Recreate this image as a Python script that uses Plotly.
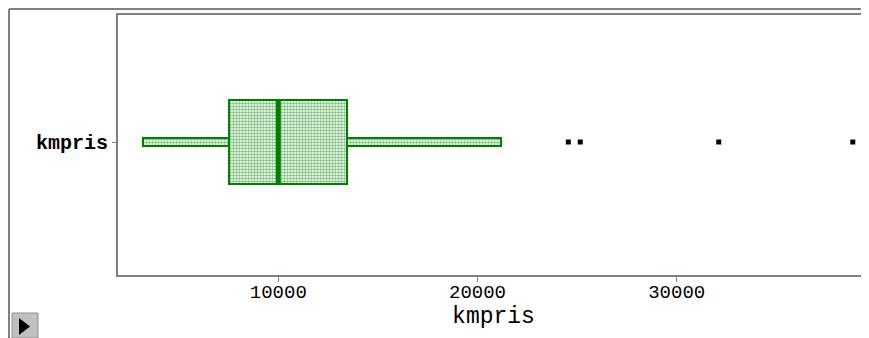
import plotly.graph_objects as go

# Data
category = "kmpris"
lower_whisker = 3220
q1 = 7540
median = 10000
q3 = 13450
upper_whisker = 21180
outliers = [24560, 25160, 32110, 38840]
x_ticks = [10000, 20000, 30000]
x_tick_labels = ["10000", "20000", "30000"]

GREEN = "#008000"
GRAY = "#808080"
BOX_W = 0.64
WHISK_W = 0.062

# page body has an 8px margin, so the figure origin sits at screen (8, 8)
W, H = 861, 330
L, T, B = 110, 7, 63
PW, PH = W - L, H - T - B

pattern = dict(shape=".", fgcolor=GREEN, bgcolor="white", size=3, solidity=0.55)

fig = go.Figure()
fig.add_trace(go.Bar(x=[q1 - lower_whisker], base=[lower_whisker], y=[0], orientation="h",
                     width=WHISK_W, marker=dict(color="white", pattern=pattern,
                                                line=dict(color=GREEN, width=2))))
fig.add_trace(go.Bar(x=[upper_whisker - q3], base=[q3], y=[0], orientation="h",
                     width=WHISK_W, marker=dict(color="white", pattern=pattern,
                                                line=dict(color=GREEN, width=2))))
fig.add_trace(go.Bar(x=[q3 - q1], base=[q1], y=[0], orientation="h",
                     width=BOX_W, marker=dict(color="white", pattern=pattern,
                                              line=dict(color=GREEN, width=2))))
fig.add_trace(go.Scatter(x=[median, median], y=[-BOX_W / 2, BOX_W / 2], mode="lines",
                         line=dict(color=GREEN, width=5)))
fig.add_trace(go.Scatter(x=outliers, y=[0] * len(outliers), mode="markers",
                         marker=dict(symbol="square", size=5, color="black")))

fig.update_layout(
    width=W, height=H,
    margin=dict(l=L, r=0, t=T, b=B),
    paper_bgcolor="white", plot_bgcolor="white",
    showlegend=False, barmode="overlay", bargap=0,
    font=dict(family="Liberation Mono", color="black"),
)
fig.update_xaxes(range=[1953, 39654], tickvals=x_ticks, ticktext=x_tick_labels,
                 showgrid=False, zeroline=False, showline=True, linecolor=GRAY, linewidth=2,
                 mirror=True, ticks="outside", ticklen=5, tickcolor=GRAY, tickwidth=1,
                 ticklabelstandoff=-7,
                 tickfont=dict(family="Liberation Mono", size=19),
                 title=dict(text=category, font=dict(family="Liberation Mono", size=23),
                            standoff=0))
fig.update_yaxes(range=[-133 / 130, 127 / 130], tickvals=[0], ticktext=[category],
                 showgrid=False, zeroline=False, showline=True, linecolor=GRAY, linewidth=2,
                 mirror=False, ticks="outside", ticklen=4, tickcolor=GRAY, tickwidth=1,
                 tickfont=dict(family="Liberation Mono", size=20, weight="bold"))

def px(x):
    return (x - L) / PW

def py(y):
    return 1 - (y - T) / PH

fig.add_shape(type="line", xref="paper", yref="paper", x0=px(1), x1=px(W), y0=py(1), y1=py(1),
              line=dict(color=GRAY, width=2))
fig.add_shape(type="line", xref="paper", yref="paper", x0=px(1), x1=px(1), y0=py(1), y1=py(H),
              line=dict(color=GRAY, width=2))
fig.add_shape(type="rect", xref="paper", yref="paper", x0=px(4), x1=px(30), y0=py(305), y1=py(H),
              fillcolor="#c0c0c0", line=dict(color="#909090", width=1))
fig.add_shape(type="path", xref="paper", yref="paper",
              path=f"M {px(11)} {py(310)} L {px(22)} {py(318.5)} L {px(11)} {py(327)} Z",
              fillcolor="black", line=dict(color="black", width=0))

fig.write_html("out.html")
